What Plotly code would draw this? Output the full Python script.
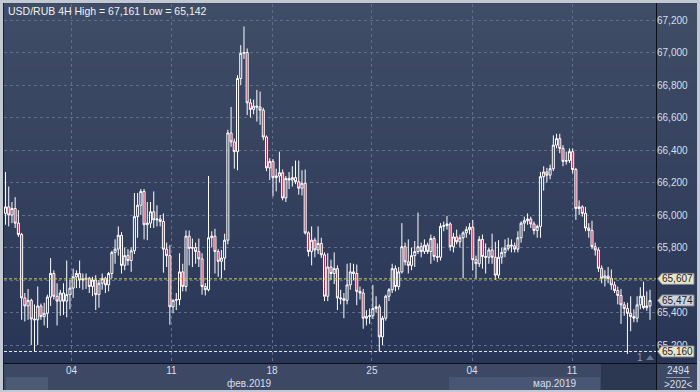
import plotly.graph_objects as go

# ---------------- data ----------------
title_text = "USD/RUB 4H High = 67,161 Low = 65,142"

opens = [66010,66050,66000,66040,65950,65880,65490,65440,65475,65360,65355,65440,65375,65395,65495,65640,65500,65470,65520,65470,
         65510,65550,65620,65640,65600,65605,65610,65560,65600,65510,65580,65610,65570,65640,65770,65790,65875,
         65690,65750,65720,
         65780,65990,66060,66145,65940,65950,66020,65970,
         65975,65960,
         65790,65750,65435,65475,65480,65650,65560,65870,65795,65800,65775,65730,65560,
         65540,65860,65870,65775,65715,65735,65845,66505,66450,66390,66840,66995,67000,66690,66650,66670,66665,66645,66480,66290,
         66330,66230,66240,66260,66105,66225,66215,66230,66205,66165,66195,65890,65775,65845,65785,65825,65755,65500,65680,65640,
         65670,65490,65485,65475,65570,65650,65640,65530,65520,65365,65375,65380,65425,65435,65250,65365,65500,65540,65670,65560,
         65650,65805,65712,
         65690,65750,65775,65805,65775,65815,65775,65855,65745,65740,65930,65935,65945,65805,65865,
         65835,65860,65890,65910,65925,65725,65700,65850,65745,65740,65785,65740,65630,65740,65770,
         65795,65815,65810,65790,
         65860,65950,65965,65975,65945,65905,65930,66236,66265,66245,66285,66430,66470,66410,66330,66335,66390,66280,66040,66050,
         66010,65920,65905,65805,65785,65672,65611,65625,65610,65570,65535,65505,65447,65425,65395,65375,65365,65447,65500,65430,65440]
highs = [66265,66175,66080,66110,66030,65890,65520,65545,65485,65450,65560,65455,65460,65510,65735,65660,65580,65540,65580,65720,
         65600,65670,65660,65720,65640,65640,65620,65620,65630,65600,65640,65620,65650,65780,65850,65930,65895,
         65800,65790,
         65800,66135,66135,66160,66160,66080,66080,66145,66060,
         66000,
         66010,65830,65815,65480,65520,65765,65700,65905,65905,65855,65830,65855,65765,65580,
         66240,65900,65915,65790,65785,65885,66525,66665,66470,66860,67045,67160,67025,66715,66710,66770,66760,66660,66490,66350,
         66345,66285,66390,66280,66240,66265,66300,66335,66335,66275,66280,65900,65930,65860,65930,65860,65770,65765,65725,65770,
         65690,65540,65520,65700,65705,65700,65695,65560,65545,65415,65425,65570,65500,65450,65380,65510,65550,65700,65690,65680,
         65950,65830,
         65850,65800,65840,66015,65830,65850,65830,65880,65870,65825,65950,65960,65995,65955,65890,65910,
         65880,65900,65930,65950,65970,65750,65870,65880,65825,65800,65885,65835,65845,65800,65850,
         65860,65850,65830,65900,
         65960,65990,66010,65990,65960,65940,66265,66300,66290,66310,66490,66500,66500,66430,66390,66410,66410,66290,66090,66060,
         66050,65950,65965,65830,65800,65690,65660,65680,65665,65590,65560,65545,65465,65460,65500,65420,65500,65555,65590,65530,65540]
lows = [65940,65930,65950,65920,65865,65355,65345,65355,65200,65160,65200,65355,65320,65305,65440,65480,65320,65380,65385,65370,
        65420,65490,65550,65550,65540,65545,65520,65500,65415,65430,65540,65520,65530,65610,65700,65750,65640,
        65660,65690,
        65650,65760,65860,66000,65850,65845,65920,65920,65930,
        65930,
        65645,65680,65325,65395,65415,65445,65530,65530,65690,65680,65700,65680,65510,65505,
        65530,65800,65640,65620,65610,65660,65820,66420,66285,66275,66800,66960,66615,66600,66620,66575,66555,66460,66270,66215,
        66115,66145,66200,66090,66080,66160,66175,66190,66125,66120,65880,65745,65690,65740,65760,65735,65470,65470,65600,65575,
        65415,65450,65365,65450,65540,65600,65445,65480,65300,65320,65330,65360,65400,65160,65200,65350,65470,65520,65530,65540,
        65640,65690,
        65640,65660,65680,65760,65740,65760,65760,65700,65720,65710,65720,65900,65910,65780,65770,65820,
        65800,65610,65860,65880,65660,65610,65680,65670,65640,65700,65700,65600,65610,65700,65740,
        65780,65770,65770,65770,
        65830,65900,65940,65920,65880,65860,65860,66150,66200,66220,66270,66410,66380,66300,66310,66320,66255,65970,66000,65990,
        65900,65860,65790,65750,65650,65580,65560,65580,65540,65520,65450,65330,65380,65145,65285,65340,65340,65420,65420,65410,65355]
closes = [66050,66000,66040,65950,65880,65490,65440,65475,65360,65355,65440,65375,65395,65495,65640,65500,65470,65520,65470,65510,
          65550,65620,65640,65600,65605,65610,65560,65600,65510,65580,65610,65570,65640,65770,65790,65875,65690,
          65750,65720,
          65780,65990,66060,66145,65940,65950,66020,65970,65975,
          65960,
          65790,65750,65435,65475,65480,65650,65560,65870,65795,65800,65775,65730,65560,65540,
          65860,65870,65775,65715,65735,65845,66505,66450,66390,66840,66995,67000,66690,66650,66670,66665,66645,66480,66290,66330,
          66230,66240,66260,66105,66225,66215,66230,66205,66165,66195,65890,65775,65845,65785,65825,65755,65500,65680,65640,65670,
          65490,65485,65475,65570,65650,65640,65530,65520,65365,65375,65380,65425,65435,65250,65365,65500,65540,65670,65560,65650,
          65805,65712,
          65690,65750,65775,65805,65775,65815,65775,65855,65745,65740,65930,65935,65945,65805,65865,65835,
          65860,65890,65910,65925,65725,65700,65850,65745,65740,65785,65740,65630,65740,65770,65795,
          65815,65810,65790,65860,
          65950,65965,65975,65945,65905,65930,66236,66265,66245,66285,66430,66470,66410,66330,66335,66390,66280,66040,66050,66010,
          65920,65905,65805,65785,65672,65611,65625,65610,65570,65535,65505,65447,65425,65395,65375,65365,65447,65500,65430,65440,65474]
assert len(opens) == len(highs) == len(lows) == len(closes), (len(opens), len(highs), len(lows), len(closes))

week_idx = [20.5, 51.5, 82.7, 113.7, 144.8, 175.8]
week_labels = ["04", "11", "18", "25", "04", "11"]
month_idx = [75.6, 170.5]
month_labels = ["фев.2019", "мар.2019"]
y_ticks = [65200, 65400, 65600, 65800, 66000, 66200, 66400, 66600, 66800, 67000, 67200]
prev_level = 65607
last_price = 65474
low_level = 65160
bar_count_text = "2494"
zoom_text = ">202<"

# ---------------- layout geometry ----------------
W, H = 700, 392
PL, PR, PT, PB = 4, 656, 4, 363
def fx(x): return x / W
def fy(y): return 1 - y / H

n = len(closes)
x0_px, x1_px = 5.5, 650.0
step = (x1_px - x0_px) / (n - 1)
x_range = [(PL - x0_px) / step, (PR - x0_px) / step]
vpp = 200 / 32.5  # price per pixel
y_range = [67200 - (PB - 20) * vpp, 67200 + (20 - PT) * vpp]

fig = go.Figure()
fig.add_trace(go.Candlestick(
    x=list(range(n)), open=opens, high=highs, low=lows, close=closes,
    increasing=dict(line=dict(color="#ffffff", width=1), fillcolor="rgba(0,0,0,0)"),
    decreasing=dict(line=dict(color="#ffffff", width=1), fillcolor="#c2284e"),
    whiskerwidth=0, hoverinfo="skip", showlegend=False,
))

shapes = []
shapes.append(dict(type="rect", xref="paper", yref="paper", x0=fx(3), x1=fx(697), y0=fy(390), y1=fy(3),
                   fillcolor="#3d4964", line=dict(width=0), layer="below"))
nst = 40
top = (64, 77, 102); bot = (41, 53, 86)
for k in range(nst):
    t = (k + 0.5) / nst
    c = tuple(int(round(top[j] + (bot[j] - top[j]) * t)) for j in range(3))
    ya = PT + (PB - PT) * k / nst
    yb = PT + (PB - PT) * (k + 1) / nst + 0.6
    shapes.append(dict(type="rect", xref="paper", yref="paper", x0=fx(4), x1=fx(697), y0=fy(yb), y1=fy(ya),
                       fillcolor="rgb(%d,%d,%d)" % c, line=dict(width=0), layer="below"))
shapes.append(dict(type="rect", xref="paper", yref="paper", x0=fx(6), x1=fx(48), y0=fy(390), y1=fy(377),
                   fillcolor="#4d5a76", line=dict(width=0), layer="below"))
shapes.append(dict(type="rect", xref="paper", yref="paper", x0=fx(449), x1=fx(600), y0=fy(390), y1=fy(377),
                   fillcolor="#485673", line=dict(width=0), layer="below"))
shapes.append(dict(type="rect", xref="paper", yref="paper", x0=fx(601), x1=fx(656), y0=fy(390), y1=fy(364),
                   fillcolor="#2c3751", line=dict(width=0), layer="below"))
shapes.append(dict(type="line", xref="paper", yref="paper", x0=fx(656.5), x1=fx(656.5), y0=fy(390), y1=fy(3),
                   line=dict(color="#0b0f18", width=1), layer="above"))
shapes.append(dict(type="line", xref="paper", yref="paper", x0=fx(3), x1=fx(697), y0=fy(363.5), y1=fy(363.5),
                   line=dict(color="#0b0f18", width=1), layer="above"))
shapes.append(dict(type="line", xref="paper", yref="paper", x0=fx(3.5), x1=fx(3.5), y0=fy(390), y1=fy(3),
                   line=dict(color="#1a2232", width=1), layer="above"))
shapes.append(dict(type="line", xref="paper", yref="y", x0=fx(PL), x1=fx(PR), y0=prev_level, y1=prev_level,
                   line=dict(color="#d6d34a", width=1, dash="3px,2px"), layer="above"))
shapes.append(dict(type="line", xref="paper", yref="y", x0=fx(PL), x1=fx(PR), y0=low_level, y1=low_level,
                   line=dict(color="#e6e6e6", width=1, dash="3px,2px"), layer="above"))
shapes.append(dict(type="path", xref="paper", yref="paper",
                   path="M %f %f L %f %f L %f %f Z" % (fx(646), fy(360), fx(650), fy(355), fx(654), fy(360)),
                   fillcolor="#6b7890", line=dict(width=0), layer="above"))
shapes.append(dict(type="line", xref="paper", yref="paper", x0=fx(666), x1=fx(690), y0=fy(377.5), y1=fy(377.5),
                   line=dict(color="#8a96aa", width=1), layer="above"))

annotations = []
def tag(value, text, fill):
    h = 5.5 * vpp
    path = "M %f %f L %f %f L %f %f L %f %f L %f %f Z" % (
        fx(657.5), value, fx(662), value + h, fx(694), value + h, fx(694), value - h, fx(662), value - h)
    shapes.append(dict(type="path", xref="paper", yref="y", path=path, fillcolor=fill,
                       line=dict(color="#7d8594", width=1), layer="above"))
    annotations.append(dict(xref="paper", yref="y", x=fx(677.5), y=value, text=text, showarrow=False,
                            xanchor="center", yanchor="middle",
                            font=dict(family="Liberation Sans, Arial", size=10, color="#1d2333")))

tag(prev_level, f"{prev_level:,}", "#e9e6c8")
tag(last_price, f"{last_price:,}", "#cfd3da")
tag(low_level, f"{low_level:,}", "#e9e6c8")

light = "#d9dfe9"
annotations.append(dict(xref="paper", yref="paper", x=fx(6), y=fy(10.5), text=title_text, showarrow=False,
                        xanchor="left", yanchor="middle",
                        font=dict(family="Liberation Sans, Arial", size=10.5, color="#eef1f5")))
for mi, ml in zip(month_idx, month_labels):
    annotations.append(dict(xref="x", yref="paper", x=mi, y=fy(383), text=ml, showarrow=False,
                            xanchor="center", yanchor="middle",
                            font=dict(family="Liberation Sans, Arial", size=10, color=light)))
annotations.append(dict(xref="paper", yref="paper", x=fx(640), y=fy(357.5), text="1", showarrow=False,
                        xanchor="center", yanchor="middle",
                        font=dict(family="Liberation Sans, Arial", size=10, color="#8c97aa")))
annotations.append(dict(xref="paper", yref="paper", x=fx(678), y=fy(370.5), text=bar_count_text, showarrow=False,
                        xanchor="center", yanchor="middle",
                        font=dict(family="Liberation Sans, Arial", size=10, color=light)))
annotations.append(dict(xref="paper", yref="paper", x=fx(678), y=fy(384), text=zoom_text, showarrow=False,
                        xanchor="center", yanchor="middle",
                        font=dict(family="Liberation Sans, Arial", size=10, color=light)))

y_ticktext = ["" if v == 65600 else f"{v:,}" for v in y_ticks]

grid = "#5f6e8a"
fig.update_layout(
    width=W, height=H, margin=dict(l=0, r=0, t=0, b=0),
    paper_bgcolor="#c3c9d2", plot_bgcolor="rgba(0,0,0,0)",
    boxgap=0.1,
    shapes=shapes, annotations=annotations,
    xaxis=dict(domain=[fx(PL), fx(PR)], range=x_range, rangeslider=dict(visible=False),
               tickmode="array", tickvals=week_idx, ticktext=week_labels,
               showgrid=True, gridcolor=grid, griddash="3px,3px", gridwidth=1,
               zeroline=False, showline=False, ticks="",
               tickfont=dict(family="Liberation Sans, Arial", size=10, color=light)),
    yaxis=dict(domain=[fy(PB), fy(PT)], range=y_range, side="right",
               tickmode="array", tickvals=y_ticks, ticktext=y_ticktext,
               showgrid=True, gridcolor=grid, griddash="3px,3px", gridwidth=1,
               zeroline=False, showline=False, ticks="",
               tickfont=dict(family="Liberation Sans, Arial", size=10, color=light)),
)

fig.write_html("out.html")
